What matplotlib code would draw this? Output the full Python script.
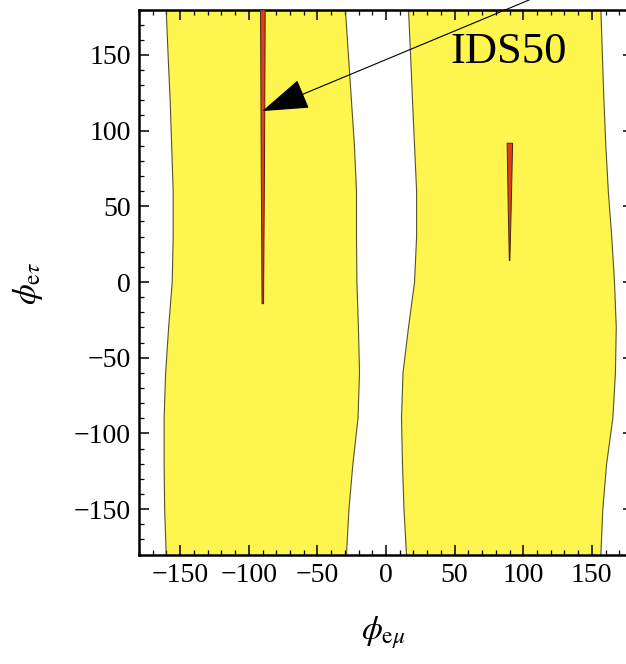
import matplotlib
matplotlib.use("Agg")
import matplotlib.pyplot as plt
from matplotlib.ticker import MultipleLocator

plt.rcParams['mathtext.fontset'] = 'stix'

# ---- data ----
y_grid = [180, 150, 120, 90, 60, 30, 0, -30, -60, -90, -120, -150, -180]
left_region_lo = [-160.2, -158.8, -157.3, -156.2, -155.1, -155.1, -155.8, -158.4, -160.6, -161.7, -161.7, -161.3, -160.2]
left_region_hi = [-29.6, -27.4, -25.2, -23.0, -21.5, -21.5, -21.2, -20.1, -19.3, -20.4, -24.1, -27.0, -28.8]
right_region_lo = [16.4, 17.9, 19.3, 20.8, 22.3, 22.3, 20.8, 16.4, 12.4, 11.3, 12.0, 13.1, 14.9]
right_region_hi = [156.6, 157.7, 158.8, 160.2, 162.0, 164.5, 166.5, 167.8, 167.2, 165.3, 160.8, 158.0, 156.6]

red_left_y = [-14, 80, 180]
red_left_lo = [-90.7, -91.3, -91.8]
red_left_hi = [-89.6, -88.9, -88.4]
red_right_y = [14.5, 50, 92]
red_right_lo = [89.5, 88.7, 87.9]
red_right_hi = [89.9, 90.9, 91.9]

arrow_tip = (-90.1, 112.9)
arrow_tail = (175.0, 213.0)
label_text = "IDS50"
label_pos = (89.4, 151.9)

xticks = [-150, -100, -50, 0, 50, 100, 150]
yticks = [-150, -100, -50, 0, 50, 100, 150]

# ---- figure ----
W, H = 626, 664
fig = plt.figure(figsize=(W / 100, H / 100), dpi=100)
ax = fig.add_axes([139 / W, (H - 554.5) / H, (633 - 139) / W, (554.5 - 9.5) / H])

yellow = '#fff54f'
edge = '#55532a'
ax.fill_betweenx(y_grid, left_region_lo, left_region_hi, facecolor=yellow, edgecolor='none', zorder=1)
ax.fill_betweenx(y_grid, right_region_lo, right_region_hi, facecolor=yellow, edgecolor='none', zorder=1)
for b in (left_region_lo, left_region_hi, right_region_lo, right_region_hi):
    ax.plot(b, y_grid, color=edge, lw=0.8, zorder=2)

red = '#de3f1c'
ax.fill_betweenx(red_left_y, red_left_lo, red_left_hi, facecolor=red, edgecolor='#4a2410', lw=0.7, zorder=3)
ax.fill_betweenx(red_right_y, red_right_lo, red_right_hi, facecolor=red, edgecolor='#4a2410', lw=0.7, zorder=3)

ax.annotate('', xy=arrow_tip, xytext=arrow_tail, xycoords='data', textcoords='data',
            annotation_clip=False,
            arrowprops=dict(arrowstyle='-|>,head_length=1.5,head_width=0.5', mutation_scale=20,
                            color='black', lw=0.8, shrinkA=0, shrinkB=0),
            zorder=5)

ax.text(label_pos[0], label_pos[1], label_text, ha='center', va='center',
        fontsize=32, family='Liberation Serif', zorder=4)

ax.set_xlim(-180, 180)
ax.set_ylim(-180, 180)
ax.set_xticks(xticks)
ax.set_yticks(yticks)
ax.xaxis.set_minor_locator(MultipleLocator(10))
ax.yaxis.set_minor_locator(MultipleLocator(10))
ax.tick_params(which='both', direction='in', top=True, right=True)
ax.tick_params(which='major', length=7, width=1.1, labelsize=20, pad=6)
ax.tick_params(which='minor', length=3.5, width=0.9)
for lab in ax.get_xticklabels() + ax.get_yticklabels():
    lab.set_family('Liberation Serif')
for s in ax.spines.values():
    s.set_linewidth(1.8)

fig.text(383 / W, 1 - 633 / H, r'$\phi_{\mathrm{e}\mu}$', ha='center', va='center', fontsize=24)
fig.text(28 / W, 1 - 283 / H, r'$\phi_{\mathrm{e}\tau}$', ha='center', va='center', fontsize=24, rotation=90)

fig.savefig('out.png', dpi=100)
